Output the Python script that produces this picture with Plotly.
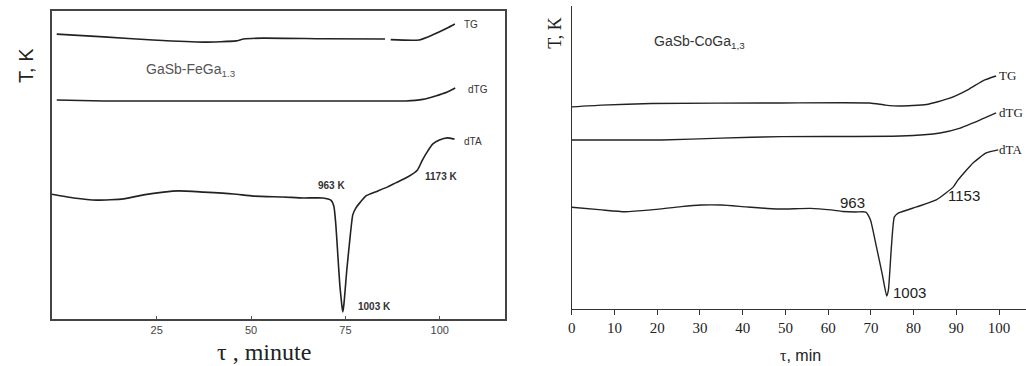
import plotly.graph_objects as go

# ---------------- Left panel (GaSb-FeGa1.3) ----------------
L_tg_t = [-1.5, 11, 24, 37.4, 46, 48, 53, 69, 85.5, None, 87, 94.5, 98, 102, 104]
L_tg_v = [92.5, 91.6, 90.6, 89.9, 90.3, 90.9, 91.2, 91.0, 90.9, None, 90.7, 90.6, 92.2, 94.5, 95.8]

L_dtg_t = [-1.5, 11, 40, 70, 88.3, 91, 95.5, 98.9, 102, 104.1]
L_dtg_v = [71.1, 70.8, 70.8, 70.8, 70.8, 70.8, 71.3, 72.4, 73.7, 75.0]

L_dta_t = [-2.8, 3.0, 9.1, 16.2, 21.5, 26.8, 30.8, 37.4, 45.3, 50.6, 58.5, 63.8, 69.0,
           71.15, 71.94, 72.47, 72.99, 73.52, 74.05, 74.31, 74.58, 75.37, 76.16, 76.95,
           77.75, 78.8, 80.38, 82.2, 86.2, 88.3, 91.5, 94.1, 95.4, 96.8, 98.1, 99.9, 102.0, 103.9]
L_dta_v = [40.5, 39.3, 38.6, 39.0, 40.3, 41.2, 41.6, 41.2, 40.6, 39.9, 39.6, 39.3, 39.3,
           38.6, 36.6, 30.5, 20.8, 11.0, 4.5, 2.3, 4.5, 15.9, 25.6, 33.8,
           36.0, 37.7, 39.9, 40.9, 42.9, 44.2, 46.1, 48.4, 51.6, 54.5, 56.8, 58.1, 58.8, 58.4]

L_ticks = [25, 50, 75, 100]

# ---------------- Right panel (GaSb-CoGa1,3) ----------------
R_tg_t = [0, 7.0, 18.6, 49.0, 69.7, 73.4, 76.7, 83.0, 88.3, 93.0, 96.3, 99.3]
R_tg_v = [66.7, 67.3, 67.8, 68.0, 68.0, 67.3, 67.0, 67.5, 69.5, 72.6, 75.4, 76.9]

R_dtg_t = [0, 21.0, 35.0, 49.0, 76.9, 86.2, 90.9, 95.6, 99.3]
R_dtg_v = [55.8, 55.8, 56.4, 56.9, 57.1, 58.1, 59.7, 62.4, 64.7]

R_dta_t = [0, 7.0, 12.4, 18.6, 25.6, 30.3, 35.0, 40.8, 48.0, 55.9, 60.6, 63.4, 66.4, 68.8,
           69.9, 71.3, 72.7, 73.7, 74.1, 74.8, 75.5, 76.5, 80.7, 85.3, 89.3, 90.4, 93.9, 97.0, 99.8]
R_dta_v = [33.6, 32.7, 32.1, 32.7, 33.8, 34.3, 34.3, 33.7, 33.0, 33.2, 32.7, 32.2, 32.0, 32.0,
           29.4, 20.5, 11.2, 4.3, 6.3, 20.5, 30.4, 31.7, 33.7, 36.0, 40.3, 42.6, 48.2, 51.5, 52.5]

R_ticks = [0, 10, 20, 30, 40, 50, 60, 70, 80, 90, 100]

W, H = 1026, 366
LINE = "#222222"

fig = go.Figure()
for t, v in [(L_tg_t, L_tg_v), (L_dtg_t, L_dtg_v), (L_dta_t, L_dta_v)]:
    fig.add_trace(go.Scatter(x=t, y=v, mode="lines", xaxis="x", yaxis="y",
                             line=dict(color=LINE, width=1.6, shape="spline", smoothing=0.5),
                             connectgaps=False, showlegend=False, hoverinfo="skip"))
for t, v in [(R_tg_t, R_tg_v), (R_dtg_t, R_dtg_v), (R_dta_t, R_dta_v)]:
    fig.add_trace(go.Scatter(x=t, y=v, mode="lines", xaxis="x2", yaxis="y2",
                             line=dict(color=LINE, width=1.4, shape="spline", smoothing=0.5),
                             showlegend=False, hoverinfo="skip"))

sans = "Liberation Sans, Arial, sans-serif"
serif = "Liberation Serif, Times New Roman, serif"

fig.update_layout(
    width=W, height=H, margin=dict(l=0, r=0, t=0, b=0),
    paper_bgcolor="white", plot_bgcolor="white",
    xaxis=dict(domain=[48 / W, 503 / W], range=[-2.8, 117.3], tickvals=L_ticks,
               ticks="inside", ticklen=3, tickcolor="#555", showline=True, mirror=True,
               linecolor="#444", linewidth=1.5, showgrid=False, zeroline=False,
               tickfont=dict(family=sans, size=11, color="#444"), anchor="y"),
    yaxis=dict(domain=[(H - 319) / H, (H - 11) / H], range=[0, 100], showticklabels=False,
               ticks="", showline=True, mirror=True, linecolor="#444", linewidth=1.5,
               showgrid=False, zeroline=False, anchor="x"),
    xaxis2=dict(domain=[570 / W, 1.0], range=[0, 106.3], tickvals=R_ticks,
                ticks="outside", ticklen=5, tickcolor="#333", showline=True,
                linecolor="#333", linewidth=1.3, showgrid=False, zeroline=False,
                tickfont=dict(family=serif, size=15, color="#222"), anchor="y2"),
    xaxis3=dict(overlaying="x2", side="top", anchor="y2", range=[0, 106.3], tickvals=R_ticks,
                ticks="inside", ticklen=5, tickcolor="#333", showline=True,
                linecolor="#333", linewidth=1.3, showgrid=False, zeroline=False,
                showticklabels=False),
    yaxis2=dict(domain=[(H - 309) / H, (H - 6) / H], range=[0, 100], showticklabels=False,
                ticks="", showline=True, linecolor="#333", linewidth=1.3,
                showgrid=False, zeroline=False, anchor="x2"),
)

def ann(text, x, y, xref, yref, size, family, color="#222", xanchor="center", **kw):
    fig.add_annotation(text=text, x=x, y=y, xref=xref, yref=yref, showarrow=False,
                       font=dict(size=size, family=family, color=color),
                       xanchor=xanchor, yanchor="middle", **kw)

# left panel texts
ann("GaSb-FeGa<sub>1.3</sub>", 34.0, 80.8, "x", "y", 14, sans, "#555")
ann("TG", 106.0, 95.5, "x", "y", 10, sans, "#333", xanchor="left")
ann("dTG", 107.0, 74.4, "x", "y", 10, sans, "#333", xanchor="left")
ann("dTA", 106.0, 57.6, "x", "y", 10, sans, "#333", xanchor="left")
ann("<b>963 K</b>", 71.2, 43.2, "x", "y", 10, sans, "#333")
ann("<b>1173 K</b>", 100.2, 46.4, "x", "y", 10, sans, "#333")
ann("<b>1003 K</b>", 82.8, 3.9, "x", "y", 10, sans, "#333")
ann("T, K", 22 / W, (H - 65) / H, "paper", "paper", 20, sans, "#222", textangle=-90)
ann("τ , minute", 261 / W, (H - 352) / H, "paper", "paper", 24, serif, "#222")

# right panel texts
ann("GaSb-CoGa<sub>1,3</sub>", 29.8, 88.1, "x2", "y2", 14, sans, "#333")
ann("TG", 99.6, 76.9, "x2", "y2", 13, serif, "#222", xanchor="left")
ann("dTG", 99.6, 64.7, "x2", "y2", 13, serif, "#222", xanchor="left")
ann("dTA", 99.6, 52.5, "x2", "y2", 13, serif, "#222", xanchor="left")
ann("963", 65.7, 35.0, "x2", "y2", 15, sans, "#222")
ann("1153", 91.8, 37.6, "x2", "y2", 15, sans, "#222")
ann("1003", 79.0, 5.6, "x2", "y2", 15, sans, "#222")
ann("T, K", 553 / W, (H - 33) / H, "paper", "paper", 18, serif, "#222", textangle=-90)
ann("<span style='font-family:Liberation Serif'>τ</span>, min", 800 / W, (H - 355) / H,
    "paper", "paper", 16, sans, "#222")

fig.write_html("out.html", config={"displayModeBar": False},
               post_script="document.body.style.margin='0';document.body.style.overflow='hidden';")
